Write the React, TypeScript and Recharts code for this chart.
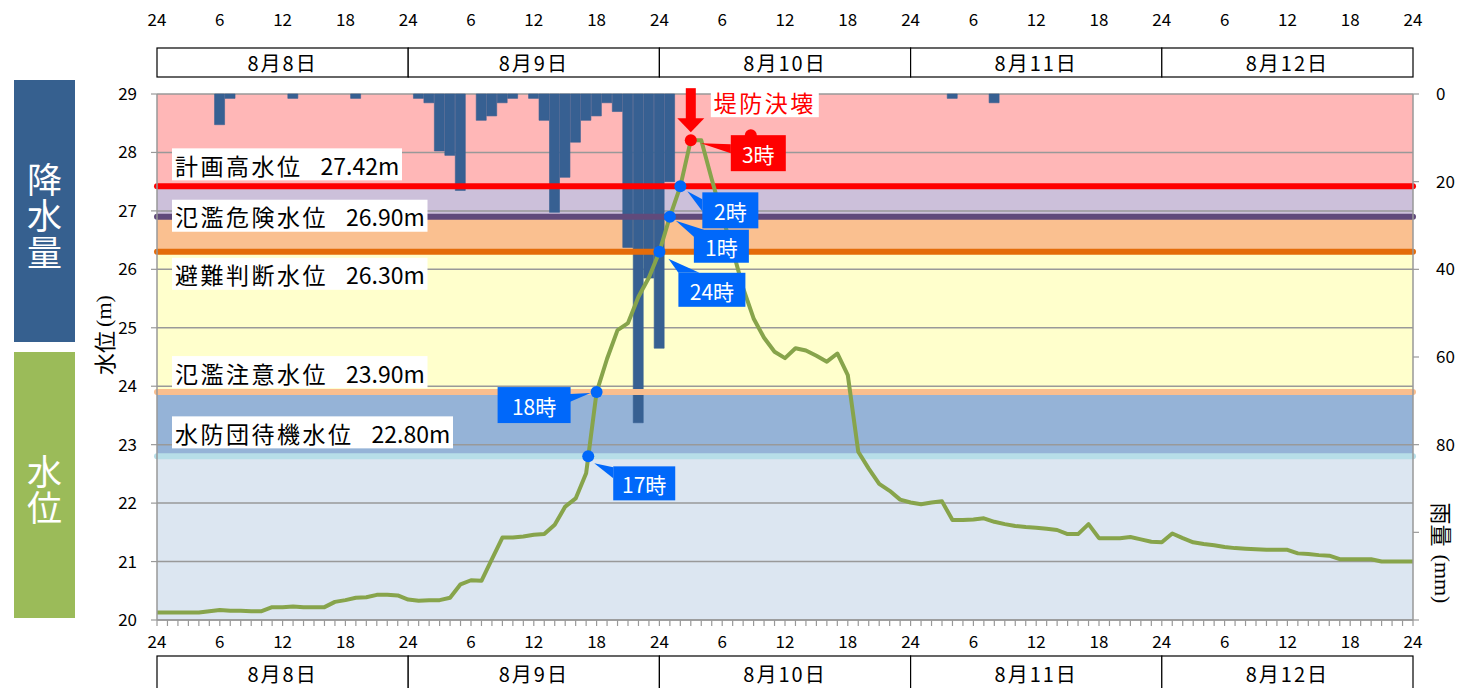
import React from 'react';
import {
  ComposedChart,
  Bar,
  Line,
  XAxis,
  YAxis,
  CartesianGrid,
  ReferenceArea,
  ReferenceLine,
  ReferenceDot,
} from 'recharts';

// ---------- data ----------
// hours counted from 8/8 0:00 (24時 of 8/7)
const HOURS = [
  0, 1, 2, 3, 4, 5, 6, 7, 8, 9, 10, 11, 12, 13, 14, 15, 16, 17, 18, 19, 20, 21, 22, 23,
  24, 25, 26, 27, 28, 29, 30, 31, 32, 33, 34, 35, 36, 37, 38, 39, 40, 41, 42, 43, 44, 45, 46, 47,
  48, 49, 50, 51, 52, 53, 54, 55, 56, 57, 58, 59, 60, 61, 62, 63, 64, 65, 66, 67, 68, 69, 70, 71,
  72, 73, 74, 75, 76, 77, 78, 79, 80, 81, 82, 83, 84, 85, 86, 87, 88, 89, 90, 91, 92, 93, 94, 95,
  96, 97, 98, 99, 100, 101, 102, 103, 104, 105, 106, 107, 108, 109, 110, 111, 112, 113, 114, 115, 116, 117, 118, 119,
  120,
];

// water level (m)
const LEVEL = [
  20.13, 20.13, 20.13, 20.13, 20.13, 20.15, 20.17, 20.16, 20.16, 20.15, 20.15, 20.22,
  20.22, 20.23, 20.22, 20.22, 20.22, 20.31, 20.34, 20.38, 20.39, 20.43, 20.43, 20.42,
  20.35, 20.33, 20.34, 20.34, 20.38, 20.61, 20.68, 20.67, 21.04, 21.41, 21.41, 21.43,
  21.46, 21.47, 21.63, 21.94, 22.08, 22.51, 23.9, 24.47, 24.96, 25.08, 25.53, 25.86,
  26.3, 26.9, 27.42, 28.21, 28.21, 27.54, 26.91, 26.33, 25.68, 25.16, 24.83, 24.59,
  24.48, 24.65, 24.61, 24.52, 24.42, 24.56, 24.19, 22.88, 22.59, 22.33, 22.21, 22.06,
  22.01, 21.98, 22.01, 22.03, 21.71, 21.71, 21.72, 21.74, 21.68, 21.64, 21.61, 21.59,
  21.58, 21.56, 21.54, 21.47, 21.47, 21.64, 21.4, 21.4, 21.4, 21.42, 21.38, 21.34,
  21.33, 21.48, 21.4, 21.33, 21.3, 21.28, 21.25, 21.23, 21.22, 21.21, 21.2, 21.2,
  21.2, 21.14, 21.13, 21.11, 21.1, 21.04, 21.04, 21.04, 21.04, 21.0, 21.0, 21.0,
  21.0,
];

// hourly rainfall (mm)
const RAIN = [
  0, 0, 0, 0, 0, 0, 7, 1, 0, 0, 0, 0,
  0, 1, 0, 0, 0, 0, 0, 1, 0, 0, 0, 0,
  0, 1, 2, 13, 14, 22, 0, 6, 5, 2, 1, 0,
  1, 6, 27, 19, 11, 6, 5, 2, 4, 35, 75, 42,
  58, 20, 0, 0, 0, 0, 0, 0, 0, 0, 0, 0,
  0, 0, 0, 0, 0, 0, 0, 0, 0, 0, 0, 0,
  0, 0, 0, 0, 1, 0, 0, 0, 2, 0, 0, 0,
  0, 0, 0, 0, 0, 0, 0, 0, 0, 0, 0, 0,
  0, 0, 0, 0, 0, 0, 0, 0, 0, 0, 0, 0,
  0, 0, 0, 0, 0, 0, 0, 0, 0, 0, 0, 0,
  0,
];

const TICK_HOURS = [0, 6, 12, 18, 24, 30, 36, 42, 48, 54, 60, 66, 72, 78, 84, 90, 96, 102, 108, 114, 120];
const TICK_LABELS = ['24', '6', '12', '18', '24', '6', '12', '18', '24', '6', '12', '18', '24', '6', '12', '18', '24', '6', '12', '18', '24'];
const DAY_CENTERS = [12, 36, 60, 84, 108];
const DAY_LABELS = ['8月8日', '8月9日', '8月10日', '8月11日', '8月12日'];

const LEVEL_TICKS = [20, 21, 22, 23, 24, 25, 26, 27, 28, 29];
const RAIN_TICKS = [0, 20, 40, 60, 80, 100, 120];
const RAIN_LABELED_MAX = 80;

const THRESHOLD_VALUES = [27.42, 26.9, 26.3, 23.9, 22.8];
const THRESHOLD_NAMES = ['計画高水位', '氾濫危険水位', '避難判断水位', '氾濫注意水位', '水防団待機水位'];
const BAND_EDGES = [29, 27.42, 26.9, 26.3, 23.9, 22.8, 20];

const MARKER_HOURS = [41.2, 42, 48, 49, 50, 51];
const MARKER_LEVELS = [22.8, 23.9, 26.3, 26.9, 27.42, 28.21];
const MARKER_LABELS = ['17時', '18時', '24時', '1時', '2時', '3時'];
const BREACH_TEXT = '堤防決壊';

// ---------- styles / layout ----------
const FONT = '"Noto Sans CJK JP", "Noto Sans", sans-serif';
const SERIF = '"Liberation Serif", "DejaVu Serif", serif';
const BAND_COLORS = ['#FFB7B7', '#CCC0DA', '#FAC090', '#FFFFCC', '#95B3D7', '#DCE6F1'];
const LINE_COLORS = ['#FF0000', '#604A7B', '#E46C0A', '#F9BE8F', '#B7DEE8'];
const LABEL_TOP = [-38, -17, 6, -36, -40];
const BAR_COLOR = '#376092';
const LEVEL_COLOR = '#87A44B';
const GRID_COLOR = '#999999';
const BLUE = '#0068FA';
const RED = '#FF0000';
const DAY_W = 1256 / 5;

const CALLOUTS = [
  { box: [25, 10, 62, 34], ptr: [[6, 7], [25, 11], [25, 22]], color: BLUE },
  { box: [-99, -5, 73, 36], ptr: [[-6, 1], [-27, 2], [-27, 10]], color: BLUE },
  { box: [19, 21, 67, 34], ptr: [[9, 7], [19, 21], [40, 21]], color: BLUE },
  { box: [24, 13, 55, 33], ptr: [[6, 4], [24, 20], [34, 13]], color: BLUE },
  { box: [22, 6, 56, 36], ptr: [[7, 5], [22, 13], [22, 25]], color: BLUE },
  { box: [40, -5, 55, 36], ptr: [[10, 3], [40, 4], [40, 13]], color: RED, breach: true },
];

const data = HOURS.map((h, i) => ({ h, level: LEVEL[i], rain: RAIN[i] }));

function HourTick(props: any) {
  const { x, payload } = props;
  const h = payload.value;
  const ti = TICK_HOURS.indexOf(h);
  const di = DAY_CENTERS.indexOf(h);
  return (
    <g>
      {ti >= 0 && (
        <>
          <text x={x} y={640} textAnchor="middle" dominantBaseline="central" fontSize={17} fontFamily={FONT} fill="#000">
            {TICK_LABELS[ti]}
          </text>
          <text x={x} y={18} textAnchor="middle" dominantBaseline="central" fontSize={17} fontFamily={FONT} fill="#000">
            {TICK_LABELS[ti]}
          </text>
        </>
      )}
      {di >= 0 && (
        <>
          <rect x={x - DAY_W / 2} y={48} width={DAY_W} height={29} fill="#fff" stroke="#000" strokeWidth={1.2} />
          <text x={x} y={62.5} textAnchor="middle" dominantBaseline="central" fontSize={20} letterSpacing={2} fontFamily={FONT} fill="#000">
            {DAY_LABELS[di]}
          </text>
          <rect x={x - DAY_W / 2} y={656} width={DAY_W} height={40} fill="#fff" stroke="#000" strokeWidth={1.2} />
          <text x={x} y={673} textAnchor="middle" dominantBaseline="central" fontSize={20} letterSpacing={2} fontFamily={FONT} fill="#000">
            {DAY_LABELS[di]}
          </text>
        </>
      )}
    </g>
  );
}

function ThresholdLabel(props: any) {
  const { viewBox, idx } = props;
  if (!viewBox) return null;
  const name = THRESHOLD_NAMES[idx];
  const x0 = viewBox.x + 15;
  const top = viewBox.y + LABEL_TOP[idx];
  const w = 2 + (name.length + 1) * 25.5 + 75;
  return (
    <g>
      <rect x={x0} y={top} width={w} height={32} fill="#fff" />
      <text x={x0 + 3} y={top + 16.5} dominantBaseline="central" fontSize={23} fontFamily={FONT} fill="#000">
        <tspan letterSpacing={2.5}>{name}</tspan>
        <tspan dx={18}>{THRESHOLD_VALUES[idx].toFixed(2) + 'm'}</tspan>
      </text>
    </g>
  );
}

function MarkerShape(props: any) {
  const { cx, cy, idx } = props;
  if (cx == null || cy == null) return null;
  const c = CALLOUTS[idx];
  const [dx, dy, w, hgt] = c.box;
  const pts = c.ptr.map(([px, py]) => `${cx + px},${cy + py}`).join(' ');
  return (
    <g>
      {c.breach && (
        <>
          <rect x={cx + 20} y={cy - 53} width={108} height={30} fill="#fff" />
          <text x={cx + 23} y={cy - 38} dominantBaseline="central" fontSize={23} letterSpacing={2.5} fontFamily={FONT} fill={RED}>
            {BREACH_TEXT}
          </text>
          <rect x={cx - 5} y={cy - 52} width={10} height={31} fill={RED} />
          <polygon points={`${cx - 13.5},${cy - 22} ${cx + 13.5},${cy - 22} ${cx},${cy - 8}`} fill={RED} />
          <circle cx={cx + dx + 20} cy={cy + dy} r={6} fill={RED} />
        </>
      )}
      <polygon points={pts} fill={c.color} />
      <rect x={cx + dx} y={cy + dy} width={w} height={hgt} fill={c.color} />
      <text
        x={cx + dx + w / 2}
        y={cy + dy + hgt / 2 + 1}
        textAnchor="middle"
        dominantBaseline="central"
        fontSize={21}
        fontFamily={FONT}
        fill="#fff"
      >
        {MARKER_LABELS[idx]}
      </text>
      <circle cx={cx} cy={cy} r={6} fill={c.color} />
    </g>
  );
}

export default function App() {
  const bands = BAND_COLORS.map((color, i) => ({ y1: BAND_EDGES[i + 1], y2: BAND_EDGES[i], color }));
  return (
    <div style={{ position: 'absolute', left: 0, top: 0, width: 1474, height: 688, background: '#fff', overflow: 'hidden' }}>
      <ComposedChart
        width={1474}
        height={688}
        data={data}
        margin={{ top: 94, right: 11, bottom: 38, left: 97 }}
        barCategoryGap={0}
        barGap={0}
      >
        {bands.map((b, i) => (
          <ReferenceArea
            key={'band' + i}
            yAxisId="level"
            y1={b.y1}
            y2={b.y2}
            fill={b.color}
            fillOpacity={1}
            stroke="none"
            ifOverflow="visible"
            zIndex={-200}
          />
        ))}
        <CartesianGrid yAxisId="level" vertical={false} stroke={GRID_COLOR} strokeWidth={1.5} zIndex={-100} />
        <XAxis
          dataKey="h"
          type="number"
          domain={[0, 120]}
          ticks={HOURS}
          interval={0}
          tick={(p: any) => <HourTick {...p} />}
          tickSize={6}
          tickLine={{ stroke: GRID_COLOR, strokeWidth: 1.2 }}
          axisLine={{ stroke: GRID_COLOR, strokeWidth: 1.5 }}
          height={30}
        />
        <YAxis
          yAxisId="level"
          type="number"
          domain={[20, 29]}
          ticks={LEVEL_TICKS}
          interval={0}
          width={60}
          tickSize={6}
          tickMargin={14}
          tick={{ fontSize: 17, fill: '#000', fontFamily: FONT }}
          tickLine={{ stroke: GRID_COLOR, strokeWidth: 1.2 }}
          axisLine={{ stroke: GRID_COLOR, strokeWidth: 1.5 }}
        />
        <YAxis
          yAxisId="rain"
          orientation="right"
          type="number"
          reversed
          domain={[0, 120]}
          ticks={RAIN_TICKS}
          interval={0}
          width={50}
          tickSize={6}
          tickMargin={17}
          tickFormatter={(v: number) => (v <= RAIN_LABELED_MAX ? String(v) : '')}
          tick={{ fontSize: 17, fill: '#000', fontFamily: FONT }}
          tickLine={{ stroke: GRID_COLOR, strokeWidth: 1.2 }}
          axisLine={{ stroke: GRID_COLOR, strokeWidth: 1.5 }}
        />
        <Bar
          yAxisId="rain"
          dataKey="rain"
          fill={BAR_COLOR}
          stroke={BAR_COLOR}
          strokeWidth={0.6}
          isAnimationActive={false}
          zIndex={300}
        />
        {THRESHOLD_VALUES.map((v, i) => (
          <ReferenceLine
            key={'th' + i}
            yAxisId="level"
            y={v}
            stroke={LINE_COLORS[i]}
            strokeWidth={6}
            strokeLinecap="round"
            zIndex={350}
            label={(p: any) => <ThresholdLabel {...p} idx={i} />}
          />
        ))}
        <Line
          yAxisId="level"
          dataKey="level"
          type="linear"
          stroke={LEVEL_COLOR}
          strokeWidth={4}
          strokeLinejoin="round"
          dot={false}
          activeDot={false}
          isAnimationActive={false}
          zIndex={400}
        />
        {MARKER_HOURS.map((h, i) => (
          <ReferenceDot
            key={'mk' + i}
            yAxisId="level"
            x={h}
            y={MARKER_LEVELS[i]}
            r={6}
            zIndex={700}
            shape={(p: any) => <MarkerShape {...p} idx={i} />}
          />
        ))}
      </ComposedChart>
      <svg
        width={1474}
        height={688}
        style={{ position: 'absolute', left: 0, top: 0, pointerEvents: 'none' }}
      >
        <rect x={14} y={80} width={61} height={262} fill="#36608F" />
        <text
          x={44.5}
          y={162}
          style={{ writingMode: 'vertical-rl' }}
          fontSize={35}
          letterSpacing={1.5}
          fontFamily={FONT}
          fill="#fff"
        >
          降水量
        </text>
        <rect x={14} y={352} width={61} height={266} fill="#9BBB59" />
        <text
          x={44.5}
          y={454}
          style={{ writingMode: 'vertical-rl' }}
          fontSize={35}
          letterSpacing={1}
          fontFamily={FONT}
          fill="#fff"
        >
          水位
        </text>
        <text transform="translate(103,335) rotate(-90)" textAnchor="middle" dominantBaseline="central" fontSize={22} fontFamily={FONT} fill="#000">
          水位<tspan fontFamily={SERIF} fontSize={22} dx={4}>(m)</tspan>
        </text>
        <text transform="translate(1443,553) rotate(90)" textAnchor="middle" dominantBaseline="central" fontSize={22} fontFamily={FONT} fill="#000">
          雨量<tspan fontFamily={SERIF} fontSize={22} dx={8}>(mm)</tspan>
        </text>
      </svg>
    </div>
  );
}
